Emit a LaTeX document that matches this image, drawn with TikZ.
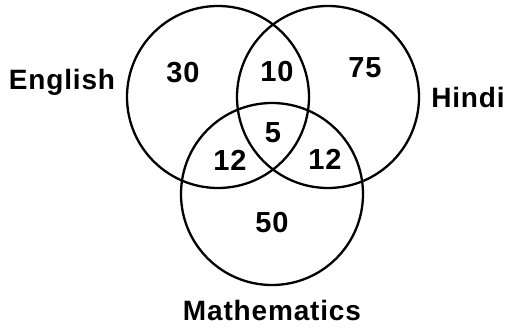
\documentclass[tikz,border=0pt]{standalone}
\usepackage{fontspec}
\setmainfont{Liberation Sans}
\newfontfamily\thickfont{Liberation Sans Bold}[LetterSpace=3]
\begin{document}
\begin{tikzpicture}[x=1pt,y=-1pt,
  setc/.style={draw=black,line width=2.3pt,circle,minimum size=182pt,inner sep=0pt},
  lab/.style={font=\thickfont\fontsize{28}{30}\selectfont},
  num/.style={font=\thickfont\fontsize{29}{31}\selectfont}]
\useasboundingbox (0,0) rectangle (509,328);
\node[setc] (E) at (218,97) {};
\node[setc] (H) at (328,97) {};
\node[setc] (M) at (272,194) {};
\node[lab] (le) at (62,82) {English};
\node[lab] (lh) at (468,97) {Hindi};
\node[lab] (lm) at (272,310) {Mathematics};
\node[num] (n30) at (183,73) {30};
\node[num] (n10) at (277,72) {10};
\node[num] (n75) at (365,68) {75};
\node[num] (n5) at (273,133) {5};
\node[num] (n12a) at (230,160) {12};
\node[num] (n12b) at (325,159) {12};
\node[num] (n50) at (272,223) {50};
\end{tikzpicture}
\end{document}
